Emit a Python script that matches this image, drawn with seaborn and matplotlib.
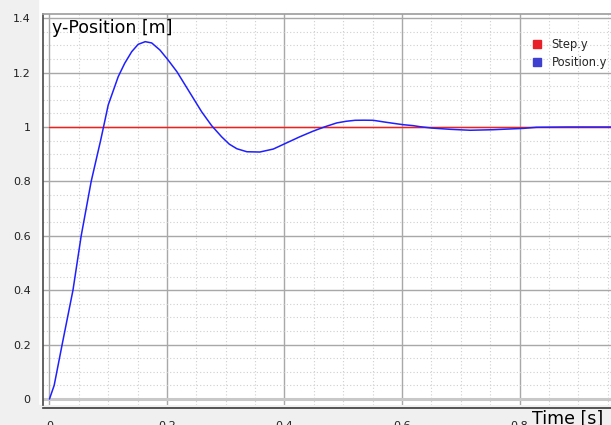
import numpy as np
import pandas as pd
import matplotlib
matplotlib.use("Agg")
import matplotlib.pyplot as plt
from matplotlib.lines import Line2D
from matplotlib.patches import Rectangle
from matplotlib.ticker import MultipleLocator, FormatStrFormatter
import seaborn as sns

# Values
time_step = [0.0, 0.96]
step_y = [1.0, 1.0]

time_pos = [0.0, 0.008, 0.022, 0.040, 0.054, 0.071, 0.087, 0.092, 0.100, 0.109,
            0.117, 0.128, 0.140, 0.151, 0.163, 0.174, 0.188, 0.202, 0.217, 0.231,
            0.245, 0.259, 0.276, 0.293, 0.306, 0.319, 0.336, 0.358, 0.381, 0.401,
            0.426, 0.449, 0.469, 0.489, 0.505, 0.520, 0.535, 0.551, 0.571, 0.585,
            0.602, 0.619, 0.631, 0.651, 0.682, 0.716, 0.755, 0.807, 0.829, 0.880,
            0.960]
position_y = [0.0, 0.05, 0.205, 0.40, 0.60, 0.80, 0.95, 1.0, 1.081, 1.136,
              1.185, 1.234, 1.277, 1.304, 1.3137, 1.309, 1.283, 1.246, 1.203, 1.154,
              1.105, 1.056, 1.005, 0.964, 0.937, 0.920, 0.909, 0.908, 0.919, 0.939,
              0.964, 0.985, 1.001, 1.015, 1.021, 1.0246, 1.025, 1.0246, 1.018, 1.0136,
              1.0085, 1.005, 1.001, 0.996, 0.9915, 0.988, 0.990, 0.995, 0.999, 1.0,
              1.0]

series_names = ["Step.y", "Position.y"]
series_colors = ["#ff1a1a", "#1f1fff"]
legend_colors = ["#e8202a", "#4040d0"]

sns.set_theme(style="white")
plt.rcParams["font.family"] = ["DejaVu Sans"]

W, H = 611, 425
fig = plt.figure(figsize=(W / 100, H / 100), dpi=100, facecolor="white")

# grey frame areas outside the canvas
fig.patches.append(Rectangle((0, 0), 38 / W, 1, transform=fig.transFigure,
                             color="#f0f0f0", zorder=-5))
fig.patches.append(Rectangle((0, 0), 1, 20 / H, transform=fig.transFigure,
                             color="#f0f0f0", zorder=-5))

ax = fig.add_axes([43 / W, 1 - 405 / H, (W - 43) / W, (405 - 14) / H])
ax.set_facecolor("white")

df_step = pd.DataFrame({"t": time_step, "v": step_y})
df_pos = pd.DataFrame({"t": time_pos, "v": position_y})
sns.lineplot(data=df_step, x="t", y="v", color=series_colors[0], lw=1.0,
             estimator=None, sort=False, ax=ax, zorder=3)
sns.lineplot(data=df_pos, x="t", y="v", color=series_colors[1], lw=1.1,
             estimator=None, sort=False, ax=ax, zorder=4)

ax.set_xlim(-0.011, 0.9557)
ax.set_ylim(-0.022, 1.4154)
ax.set_xlabel("")
ax.set_ylabel("")

ax.xaxis.set_major_locator(MultipleLocator(0.2))
ax.xaxis.set_minor_locator(MultipleLocator(0.05))
ax.yaxis.set_major_locator(MultipleLocator(0.2))
ax.yaxis.set_minor_locator(MultipleLocator(0.05))
ax.xaxis.set_major_formatter(FormatStrFormatter("%g"))
ax.yaxis.set_major_formatter(FormatStrFormatter("%g"))

ax.grid(which="major", color="#a8a8a8", lw=1.0, ls="-", zorder=1)
ax.grid(which="minor", color="#cfcfcf", lw=0.8, ls=(0, (1, 2)), zorder=1)
ax.axhline(0, color="#c8c8c8", lw=2.2, zorder=2)

ax.tick_params(axis="both", which="both", direction="out", length=4, width=1,
               color="#404040", labelsize=8, labelcolor="#202020")
ax.tick_params(axis="x", pad=5.5)
ax.tick_params(axis="y", pad=5)

ax.spines["right"].set_visible(False)
ax.spines["top"].set_color("#a0a0a0")
ax.spines["left"].set_color("#505050")
ax.spines["bottom"].set_color("#404040")
ax.spines["bottom"].set_position(("outward", 2))

handles = [Line2D([], [], marker="s", ls="", color=c, markersize=6)
           for c in legend_colors]
ax.legend(handles, series_names, loc="upper left",
          bbox_to_anchor=(532 / W, 1 - 38 / H), bbox_transform=fig.transFigure,
          frameon=False, fontsize=8.3, handlelength=0.8, handletextpad=0.9,
          labelspacing=0.45, borderpad=0, borderaxespad=0)

fig.text(52 / W, 1 - 28 / H, "y-Position [m]", fontsize=12.5, color="black",
         ha="left", va="center")
fig.text(603 / W, 1 - 419 / H, "Time [s]", fontsize=12.5, color="black",
         ha="right", va="center")

fig.savefig("out.png", dpi=100, facecolor=fig.get_facecolor())
